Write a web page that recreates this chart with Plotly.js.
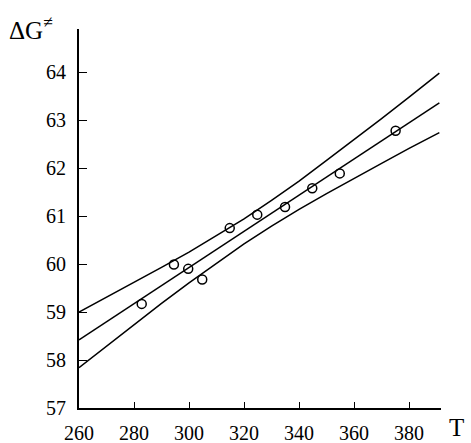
<!DOCTYPE html>
<html>
<head>
<meta charset="utf-8">
<script src="https://cdn.plot.ly/plotly-3.0.1.min.js"></script>
<style>html,body{margin:0;padding:0;background:#fff;}#chart{width:471px;height:443px;}</style>
</head>
<body>
<div id="chart"></div>
<script>
// Measured points (T, ΔG≠)
const pointT = [282.8, 294.5, 299.7, 304.8, 314.8, 324.8, 334.9, 344.8, 354.8, 375.1];
const pointG = [59.17, 59.99, 59.90, 59.68, 60.75, 61.03, 61.19, 61.58, 61.89, 62.78];

// Regression line end points
const fitT = [260, 391];
const fitG = [58.42, 63.36];

// Confidence band curves
const bandT = [260, 270, 280, 290, 300, 310, 320, 330, 340, 350, 360, 370, 380, 391];
const upperG = [59.00, 59.31, 59.61, 59.93, 60.25, 60.59, 60.94, 61.33, 61.73, 62.16, 62.59, 63.03, 63.48, 63.98];
const lowerG = [57.84, 58.29, 58.74, 59.18, 59.61, 60.02, 60.42, 60.79, 61.14, 61.47, 61.79, 62.10, 62.41, 62.74];

const xTicks = [260, 280, 300, 320, 340, 360, 380];
const yTicks = [57, 58, 59, 60, 61, 62, 63, 64];

const lineStyle = {color: '#000', width: 1.5};
const traces = [
  {x: bandT, y: upperG, mode: 'lines', line: lineStyle, hoverinfo: 'skip'},
  {x: fitT, y: fitG, mode: 'lines', line: lineStyle, hoverinfo: 'skip'},
  {x: bandT, y: lowerG, mode: 'lines', line: lineStyle, hoverinfo: 'skip'},
  {x: pointT, y: pointG, mode: 'markers',
   marker: {symbol: 'circle-open', size: 9, color: '#000', line: {width: 1.5, color: '#000'}}}
];

const fam = 'Liberation Serif, Times New Roman, serif';
const layout = {
  width: 471, height: 443,
  margin: {l: 79, r: 30, t: 29, b: 35, pad: 0},
  paper_bgcolor: '#fff', plot_bgcolor: '#fff',
  showlegend: false,
  font: {family: fam, size: 20, color: '#000'},
  xaxis: {
    range: [260, 391.6], tickvals: xTicks, ticktext: xTicks.map(String),
    showgrid: false, zeroline: false,
    showline: true, linecolor: '#000', linewidth: 2,
    ticks: 'inside', ticklen: 6, tickwidth: 1, tickcolor: '#000',
    ticklabelstandoff: 6,
    tickfont: {family: fam, size: 20, color: '#000'}
  },
  yaxis: {
    range: [57, 64.9], tickvals: yTicks, ticktext: yTicks.map(String),
    showgrid: false, zeroline: false,
    showline: true, linecolor: '#000', linewidth: 2,
    ticks: 'inside', ticklen: 8, tickwidth: 1, tickcolor: '#000',
    ticklabelstandoff: 7,
    tickfont: {family: fam, size: 20, color: '#000'}
  },
  annotations: [
    {text: 'ΔG<sup>≠</sup>', xref: 'paper', yref: 'paper', x: -0.2, y: 1.05,
     xanchor: 'left', yanchor: 'top', showarrow: false,
     font: {family: fam, size: 25, color: '#000'}},
    {text: 'T', xref: 'paper', yref: 'paper', x: 1.065, y: -0.09,
     xanchor: 'right', yanchor: 'bottom', showarrow: false, borderpad: 0,
     font: {family: fam, size: 25, color: '#000'}}
  ]
};

Plotly.newPlot('chart', traces, layout, {displayModeBar: false, staticPlot: true});
</script>
</body>
</html>
